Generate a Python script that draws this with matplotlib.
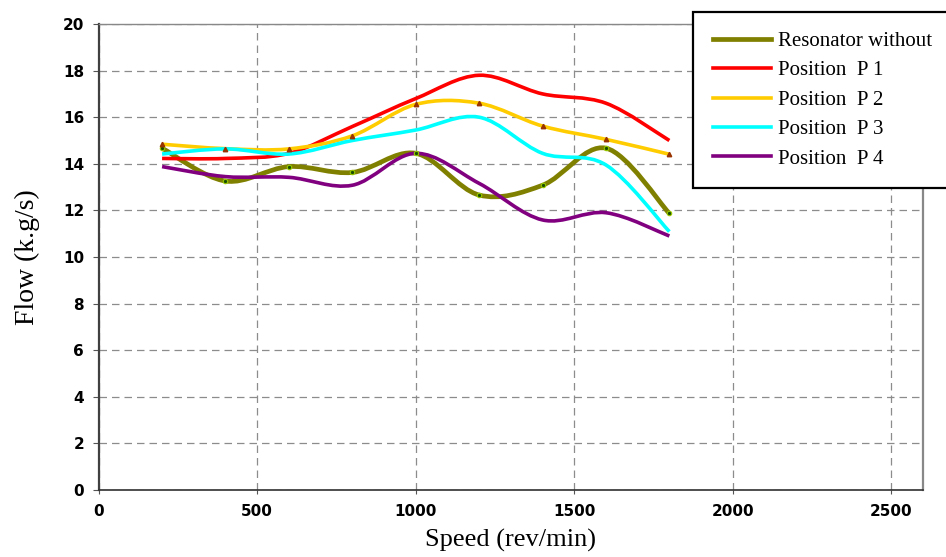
import numpy as np
import matplotlib
matplotlib.use("Agg")
import matplotlib.pyplot as plt
from matplotlib.path import Path
from matplotlib.patches import PathPatch
from matplotlib.lines import Line2D

# Data
speed = [200, 400, 600, 800, 1000, 1200, 1400, 1600, 1800]
resonator_without = [14.67, 13.26, 13.88, 13.63, 14.45, 12.66, 13.08, 14.67, 11.87]
position_p1 = [14.23, 14.23, 14.45, 15.6, 16.8, 17.8, 17.0, 16.6, 15.0]
position_p2 = [14.84, 14.65, 14.64, 15.2, 16.55, 16.6, 15.62, 15.05, 14.41]
position_p3 = [14.42, 14.64, 14.42, 15.0, 15.45, 16.0, 14.45, 13.95, 11.09]
position_p4 = [13.88, 13.45, 13.42, 13.08, 14.45, 13.16, 11.59, 11.9, 10.9]

labels = ["Resonator without", "Position  P 1", "Position  P 2",
          "Position  P 3", "Position  P 4"]
colors = ["#808000", "#FF0000", "#FFCC00", "#00FFFF", "#800080"]
widths = [3.4, 2.6, 2.6, 2.6, 2.6]


def smooth_path(x, y):
    """Bezier path through the points, like a spreadsheet 'smoothed line'."""
    pts = np.column_stack([x, y]).astype(float)
    ext = np.vstack([pts[0], pts, pts[-1]])
    verts = [pts[0]]
    codes = [Path.MOVETO]
    for i in range(len(pts) - 1):
        p0, p1, p2, p3 = ext[i], ext[i + 1], ext[i + 2], ext[i + 3]
        c1 = p1 + (p2 - p0) / 6.0
        c2 = p2 - (p3 - p1) / 6.0
        verts += [c1, c2, p2]
        codes += [Path.CURVE4] * 3
    return Path(verts, codes)


fig = plt.figure(figsize=(9.46, 5.57), dpi=100)
ax = fig.add_axes([0.1043, 0.1203, 0.8714, 0.8366])

series = [resonator_without, position_p1, position_p2, position_p3, position_p4]
for vals, col, lw in zip(series, colors, widths):
    patch = PathPatch(smooth_path(speed, vals), facecolor="none",
                      edgecolor=col, lw=lw, capstyle="butt", joinstyle="round",
                      zorder=3)
    ax.add_patch(patch)

# small point markers as in the original
ax.plot(speed, resonator_without, linestyle="none", marker="o", ms=3.2,
        mfc="#1a4d00", mec="#99cc00", mew=0.8, zorder=4)
ax.plot(speed, position_p2, linestyle="none", marker="^", ms=3.2,
        mfc="#993300", mec="#993300", zorder=4)

ax.set_xlim(0, 2600)
ax.set_ylim(0, 20)
ax.set_xticks(np.arange(0, 2501, 500))
ax.set_yticks(np.arange(0, 21, 2))

ax.grid(True, color="#8c8c8c", linestyle=(0, (6, 4)), linewidth=0.9)
ax.set_axisbelow(True)

for lab in ax.get_xticklabels() + ax.get_yticklabels():
    lab.set_fontweight("bold")
    lab.set_fontfamily("DejaVu Sans")
ax.tick_params(axis="both", labelsize=11, direction="out", color="#555555")
ax.tick_params(axis="x", length=3, pad=7)
ax.tick_params(axis="y", length=4.5, pad=6)

ax.spines["left"].set_color("#404040")
ax.spines["left"].set_linewidth(1.6)
ax.spines["bottom"].set_color("#303030")
ax.spines["bottom"].set_linewidth(1.2)
ax.spines["top"].set_color("#888888")
ax.spines["top"].set_linewidth(1.0)
ax.spines["right"].set_color("#888888")
ax.spines["right"].set_linewidth(1.6)

ax.set_xlabel("Speed (rev/min)", family="Liberation Serif", fontsize=19,
              labelpad=7)
ax.set_ylabel("Flow (k.g/s)", family="Liberation Serif", fontsize=20,
              labelpad=16)

handles = [Line2D([], [], color=c, lw=lw) for c, lw in zip(colors, widths)]
leg = fig.legend(handles, labels, loc="upper left",
                 bbox_to_anchor=(0.7326, 0.979), bbox_transform=fig.transFigure,
                 prop={"family": "Liberation Serif", "size": 15},
                 frameon=True, fancybox=False, shadow=False, framealpha=1,
                 borderpad=0.95, borderaxespad=0, labelspacing=0.47,
                 handlelength=2.8, handletextpad=0.35)
leg.get_frame().set_edgecolor("black")
leg.get_frame().set_linewidth(1.6)

fig.savefig("out.png", dpi=100)
